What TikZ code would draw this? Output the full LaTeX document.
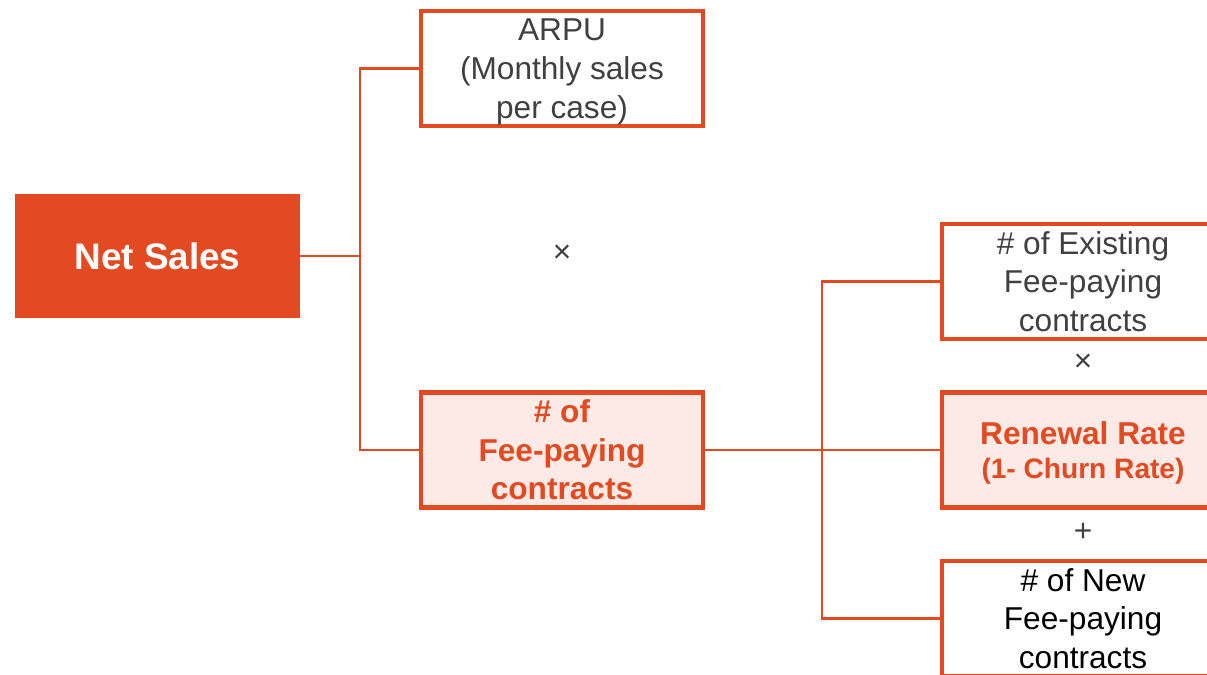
\documentclass[tikz,border=0pt]{standalone}
\usepackage{fontspec}
\setmainfont{Liberation Sans}
\usepackage{xcolor}
\usepackage{tikz}
\usetikzlibrary{calc}

\definecolor{salesorange}{HTML}{E34A22}
\definecolor{salespink}{HTML}{FBEAE6}
\definecolor{textgray}{HTML}{404040}

\begin{document}
\begin{tikzpicture}[x = 0.02cm, y = -0.02cm,
  box/.style = {draw = salesorange, line width = 2.3pt, minimum width = 5.64cm,
    minimum height = 2.3cm, align = center, inner sep = 0pt,
    font = \fontsize{18}{22}\selectfont},
  keybox/.style = {box, fill = salespink, text = salesorange,
    font = \fontsize{18}{22}\selectfont\bfseries},
  link/.style = {draw = salesorange, line width = 1.2pt},
  op/.style = {text = textgray, font = \fontsize{18}{18}\selectfont}]
  \useasboundingbox (0, 0) rectangle (1207, 675);
  \clip (0, 0) rectangle (1207, 675);

  \node[fill = salesorange, text = white, minimum width = 5.7cm, minimum height = 2.48cm,
    font = \fontsize{21}{25}\selectfont\bfseries] (NS) at (157.5, 256) {Net Sales};

  \node[box, text = textgray, text depth = -3pt] (ARPU) at (562, 68.5)
  {ARPU\\(Monthly sales\\per case)};
  \node[keybox] (FEE) at (562, 450) {\# of\\Fee-paying\\contracts};

  \node[box, text = textgray] (EXIST) at (1083, 281.5) {\# of Existing\\Fee-paying\\contracts};
  \node[keybox, text depth = -2pt] (RENEW) at (1083, 450)
  {Renewal Rate\\[-3pt]{\fontsize{16}{18}\selectfont(1- Churn Rate)}};
  \node[box, text = black] (NEW) at (1083, 618.5) {\# of New\\Fee-paying\\contracts};

  \node[op] (T1) at (562, 254) {×};
  \node[op] (T2) at (1083, 363) {×};
  \node[op] (P1) at (1083, 532) {+};

  % left branch
  \coordinate (J1) at (360, 256);
  \draw[link] (NS.east) -- (J1);
  \draw[link] (ARPU.west) -| (J1) |- (FEE.west);

  % right branch
  \coordinate (J2) at (822, 450);
  \draw[link] (FEE.east) -- (J2);
  \draw[link] (EXIST.west) -| (J2) |- (NEW.west);
  \draw[link] (J2) -- (RENEW.west);
\end{tikzpicture}
\end{document}
